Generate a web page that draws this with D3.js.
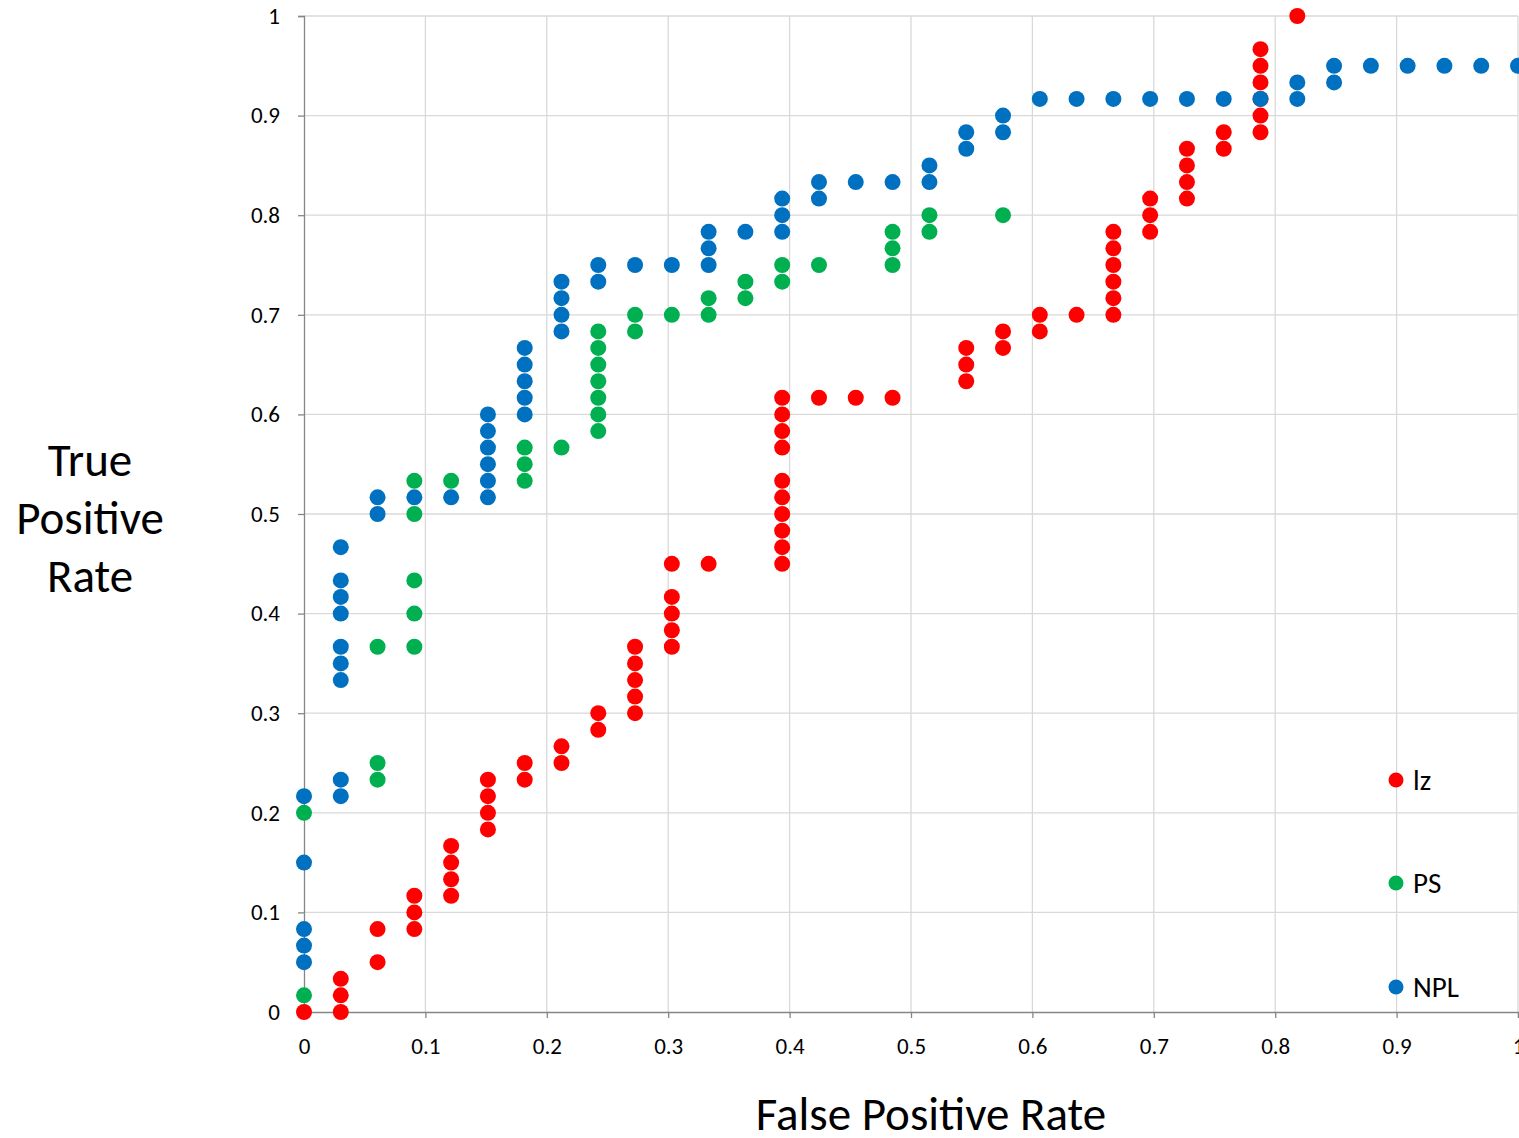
<!DOCTYPE html>
<html>
<head>
<meta charset="utf-8">
<script src="https://cdn.jsdelivr.net/npm/d3@7"></script>
<style>
  body { margin: 0; background: #fff; overflow: hidden; }
  svg { display: block; font-family: Carlito, Calibri, Lato, "Open Sans", sans-serif; }
</style>
</head>
<body>
<div id="chart"></div>
<script>
// ROC points: [false positive rate, true positive rate]
const lzPoints = [
  [0, 0],
  [0.0303, 0], [0.0303, 0.0167], [0.0303, 0.0333],
  [0.0606, 0.05], [0.0606, 0.0833],
  [0.0909, 0.0833], [0.0909, 0.1], [0.0909, 0.1167],
  [0.1212, 0.1167], [0.1212, 0.1333], [0.1212, 0.15], [0.1212, 0.1667],
  [0.1515, 0.1833], [0.1515, 0.2], [0.1515, 0.2167], [0.1515, 0.2333],
  [0.1818, 0.2333], [0.1818, 0.25],
  [0.2121, 0.25], [0.2121, 0.2667],
  [0.2424, 0.2833], [0.2424, 0.3],
  [0.2727, 0.3], [0.2727, 0.3167], [0.2727, 0.3333], [0.2727, 0.35], [0.2727, 0.3667],
  [0.303, 0.3667], [0.303, 0.3833], [0.303, 0.4], [0.303, 0.4167], [0.303, 0.45],
  [0.3333, 0.45],
  [0.3939, 0.45], [0.3939, 0.4667], [0.3939, 0.4833], [0.3939, 0.5], [0.3939, 0.5167],
  [0.3939, 0.5333], [0.3939, 0.5667], [0.3939, 0.5833], [0.3939, 0.6], [0.3939, 0.6167],
  [0.4242, 0.6167], [0.4545, 0.6167], [0.4848, 0.6167],
  [0.5455, 0.6333], [0.5455, 0.65], [0.5455, 0.6667],
  [0.5758, 0.6667], [0.5758, 0.6833],
  [0.6061, 0.6833], [0.6061, 0.7],
  [0.6364, 0.7],
  [0.6667, 0.7], [0.6667, 0.7167], [0.6667, 0.7333], [0.6667, 0.75], [0.6667, 0.7667], [0.6667, 0.7833],
  [0.697, 0.7833], [0.697, 0.8], [0.697, 0.8167],
  [0.7273, 0.8167], [0.7273, 0.8333], [0.7273, 0.85], [0.7273, 0.8667],
  [0.7576, 0.8667], [0.7576, 0.8833],
  [0.7879, 0.8833], [0.7879, 0.9], [0.7879, 0.9167], [0.7879, 0.9333], [0.7879, 0.95], [0.7879, 0.9667],
  [0.8182, 1]
];

const psPoints = [
  [0, 0.0167], [0, 0.2],
  [0.0606, 0.2333], [0.0606, 0.25], [0.0606, 0.3667],
  [0.0909, 0.3667], [0.0909, 0.4], [0.0909, 0.4333], [0.0909, 0.5], [0.0909, 0.5333],
  [0.1212, 0.5333],
  [0.1818, 0.5333], [0.1818, 0.55], [0.1818, 0.5667],
  [0.2121, 0.5667],
  [0.2424, 0.5833], [0.2424, 0.6], [0.2424, 0.6167], [0.2424, 0.6333], [0.2424, 0.65], [0.2424, 0.6667], [0.2424, 0.6833],
  [0.2727, 0.6833], [0.2727, 0.7],
  [0.303, 0.7],
  [0.3333, 0.7], [0.3333, 0.7167],
  [0.3636, 0.7167], [0.3636, 0.7333],
  [0.3939, 0.7333], [0.3939, 0.75],
  [0.4242, 0.75],
  [0.4848, 0.75], [0.4848, 0.7667], [0.4848, 0.7833],
  [0.5152, 0.7833], [0.5152, 0.8],
  [0.5758, 0.8]
];

const nplPoints = [
  [0, 0.05], [0, 0.0667], [0, 0.0833], [0, 0.15], [0, 0.2167],
  [0.0303, 0.2167], [0.0303, 0.2333], [0.0303, 0.3333], [0.0303, 0.35], [0.0303, 0.3667],
  [0.0303, 0.4], [0.0303, 0.4167], [0.0303, 0.4333], [0.0303, 0.4667],
  [0.0606, 0.5], [0.0606, 0.5167],
  [0.0909, 0.5167], [0.1212, 0.5167],
  [0.1515, 0.5167], [0.1515, 0.5333], [0.1515, 0.55], [0.1515, 0.5667], [0.1515, 0.5833], [0.1515, 0.6],
  [0.1818, 0.6], [0.1818, 0.6167], [0.1818, 0.6333], [0.1818, 0.65], [0.1818, 0.6667],
  [0.2121, 0.6833], [0.2121, 0.7], [0.2121, 0.7167], [0.2121, 0.7333],
  [0.2424, 0.7333], [0.2424, 0.75],
  [0.2727, 0.75], [0.303, 0.75],
  [0.3333, 0.75], [0.3333, 0.7667], [0.3333, 0.7833],
  [0.3636, 0.7833],
  [0.3939, 0.7833], [0.3939, 0.8], [0.3939, 0.8167],
  [0.4242, 0.8167], [0.4242, 0.8333],
  [0.4545, 0.8333], [0.4848, 0.8333],
  [0.5152, 0.8333], [0.5152, 0.85],
  [0.5455, 0.8667], [0.5455, 0.8833],
  [0.5758, 0.8833], [0.5758, 0.9],
  [0.6061, 0.9167], [0.6364, 0.9167], [0.6667, 0.9167], [0.697, 0.9167],
  [0.7273, 0.9167], [0.7576, 0.9167], [0.7879, 0.9167],
  [0.8182, 0.9167], [0.8182, 0.9333],
  [0.8485, 0.9333], [0.8485, 0.95],
  [0.8788, 0.95], [0.9091, 0.95], [0.9394, 0.95], [0.9697, 0.95], [1, 0.95]
];

const seriesNames = ["lz", "PS", "NPL"];
const seriesColors = ["#ff0000", "#00b050", "#0070c0"];
const xTicks = [0, 0.1, 0.2, 0.3, 0.4, 0.5, 0.6, 0.7, 0.8, 0.9, 1];
const yTicks = [0, 0.1, 0.2, 0.3, 0.4, 0.5, 0.6, 0.7, 0.8, 0.9, 1];

const width = 1519;
const height = 1138;
const margin = { top: 16, right: 1, bottom: 126, left: 304 };
const plotW = width - margin.left - margin.right;
const plotH = height - margin.top - margin.bottom;

const x = d3.scaleLinear().domain([0, 1]).range([0, plotW]);
const y = d3.scaleLinear().domain([0, 1]).range([plotH, 0]);

const svg = d3.select("#chart")
  .append("svg")
  .attr("width", width)
  .attr("height", height);

const g = svg.append("g")
  .attr("transform", `translate(${margin.left}, ${margin.top})`);

// gridlines
g.append("g")
  .attr("class", "grid-x")
  .selectAll("line")
  .data(xTicks.slice(1))
  .join("line")
  .attr("x1", (d) => x(d)).attr("x2", (d) => x(d))
  .attr("y1", 0).attr("y2", plotH)
  .attr("stroke", "#d9d9d9")
  .attr("stroke-width", 1.3);

g.append("g")
  .attr("class", "grid-y")
  .selectAll("line")
  .data(yTicks.slice(1))
  .join("line")
  .attr("x1", 0).attr("x2", plotW)
  .attr("y1", (d) => y(d)).attr("y2", (d) => y(d))
  .attr("stroke", "#d9d9d9")
  .attr("stroke-width", 1.3);

// axes
const xAxis = g.append("g")
  .attr("class", "x-axis")
  .attr("transform", `translate(0, ${plotH})`)
  .call(d3.axisBottom(x).tickValues(xTicks).tickFormat(d3.format("")).tickSize(6).tickPadding(20));

const yAxis = g.append("g")
  .attr("class", "y-axis")
  .call(d3.axisLeft(y).tickValues(yTicks).tickFormat(d3.format("")).tickSize(6).tickPadding(18));

[xAxis, yAxis].forEach((ax) => {
  ax.select(".domain").attr("stroke", "#868686").attr("stroke-width", 1.3);
  ax.selectAll(".tick line").attr("stroke", "#868686").attr("stroke-width", 1.3);
  ax.selectAll(".tick text")
    .attr("fill", "#000")
    .style("font-size", "23px")
    .style("font-family", "Carlito, Calibri, Lato, 'Open Sans', sans-serif");
});

// points, lz first so NPL ends up on top
const allSeries = [lzPoints, psPoints, nplPoints];
allSeries.forEach((pts, i) => {
  g.append("g")
    .attr("class", "series-" + seriesNames[i])
    .selectAll("circle")
    .data(pts)
    .join("circle")
    .attr("cx", (d) => x(d[0]))
    .attr("cy", (d) => y(d[1]))
    .attr("r", 8)
    .attr("fill", seriesColors[i]);
});

// legend
const legend = svg.append("g").attr("class", "legend");
const legendY = [780, 883, 987];
seriesNames.forEach((name, i) => {
  legend.append("circle")
    .attr("cx", 1396)
    .attr("cy", legendY[i])
    .attr("r", 7.5)
    .attr("fill", seriesColors[i]);
  legend.append("text")
    .attr("x", 1413)
    .attr("y", legendY[i])
    .attr("dy", "0.35em")
    .style("font-size", "29px")
    .text(name);
});

// axis titles
svg.append("text")
  .attr("x", 931)
  .attr("y", 1130)
  .attr("text-anchor", "middle")
  .style("font-size", "47px")
  .text("False Positive Rate");

const yTitle = svg.append("text")
  .attr("text-anchor", "middle")
  .style("font-size", "47px");
["True", "Positive", "Rate"].forEach((word, i) => {
  yTitle.append("tspan")
    .attr("x", 90)
    .attr("y", 476 + i * 58)
    .text(word);
});
</script>
</body>
</html>
